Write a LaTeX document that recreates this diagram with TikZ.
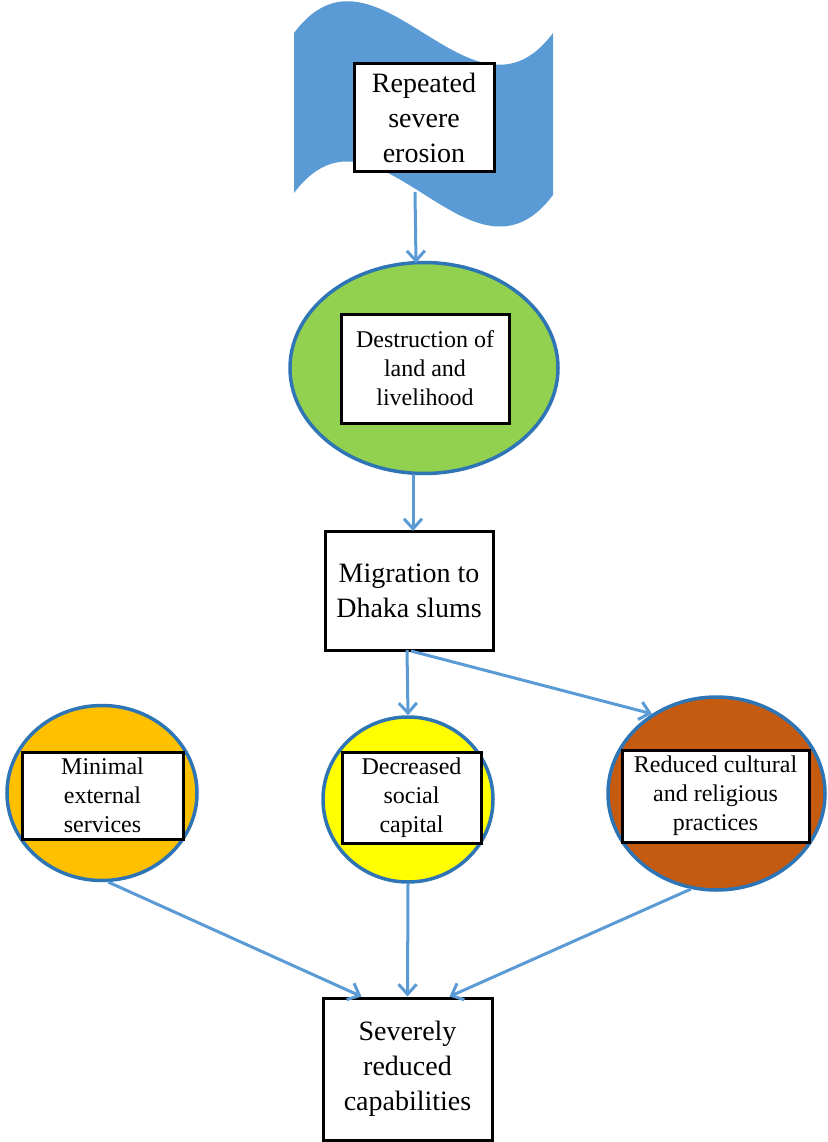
\documentclass[tikz,border=0pt]{standalone}
\usepackage{fontspec}
\setmainfont{Liberation Serif}
\usetikzlibrary{shapes.geometric,arrows.meta}
\definecolor{flowblue}{HTML}{5B9BD5}
\definecolor{rimblue}{HTML}{2E75B6}
\definecolor{leafgreen}{HTML}{92D050}
\definecolor{amber}{HTML}{FFC000}
\definecolor{brightyellow}{HTML}{FFFF00}
\definecolor{rust}{HTML}{C55A11}
\begin{document}
\begin{tikzpicture}[x=1pt,y=-1pt,
  bigtext/.style={font=\fontsize{28}{35}\selectfont},
  smalltext/.style={font=\fontsize{24}{29}\selectfont},
  textbox/.style={draw=black,line width=3pt,fill=white,align=center,inner sep=0pt},
  blob/.style={ellipse,draw=rimblue,line width=3.5pt,inner sep=0pt},
  flow/.style={draw=flowblue,line width=3pt,-{Straight Barb[length=10pt,width=18pt]}}]
\useasboundingbox (0,0) rectangle (827,1142);

% wavy banner behind the first box
\fill[flowblue] (294,33) .. controls (376,-77) and (471,143) .. (553,33)
  -- (553,195) .. controls (471,305) and (376,83) .. (294,193) -- cycle;
\coordinate (bannerfoot) at (415,192);

\node[textbox,bigtext,minimum width=140,minimum height=108] (erosion) at (424,118)
  {Repeated\\severe\\erosion};

% land and livelihood
\node[blob,fill=leafgreen,minimum width=268,minimum height=211] (land) at (424,368) {};
\node[textbox,smalltext,minimum width=168,minimum height=109] (landtxt) at (425,368.5)
  {Destruction of\\land and\\livelihood};

% migration
\node[textbox,bigtext,minimum width=168,minimum height=119] (migration) at (409,590.5)
  {Migration to\\Dhaka slums};

% three consequences
\node[blob,fill=amber,minimum width=190,minimum height=175] (services) at (102,793) {};
\node[textbox,smalltext,minimum width=161,minimum height=87] (servicestxt) at (102.5,795.5)
  {Minimal\\external\\services};

\node[blob,fill=brightyellow,minimum width=170,minimum height=165] (social) at (408,799.5) {};
\node[textbox,smalltext,minimum width=139,minimum height=91] (socialtxt) at (411.5,797.5)
  {Decreased\\social\\capital};

\node[blob,fill=rust,minimum width=217,minimum height=193] (culture) at (716.5,793.5) {};
\node[textbox,smalltext,minimum width=187,minimum height=92] (culturetxt) at (715.5,796)
  {Reduced cultural\\and religious\\practices};

% outcome
\node[textbox,bigtext,minimum width=169,minimum height=142] (outcome) at (407.5,1069)
  {Severely\\reduced\\capabilities};

% connectors
\coordinate (landin) at (416,263);
\coordinate (landout) at (413,474);
\coordinate (migin) at (413,531);
\coordinate (migout) at (407,650);
\coordinate (migout2) at (411,651);
\draw[flow] (bannerfoot) -- (landin);
\draw[flow] (landout) -- (migin);
\draw[flow] (migout) -- (social.north);
\draw[flow] (migout2) -- (culture.129);
\draw[flow] (services.-86) -- ([xshift=-46pt]outcome.north);
\draw[flow] (social.south) -- (outcome.north);
\draw[flow] (culture.255) -- ([xshift=42pt]outcome.north);
\end{tikzpicture}
\end{document}
